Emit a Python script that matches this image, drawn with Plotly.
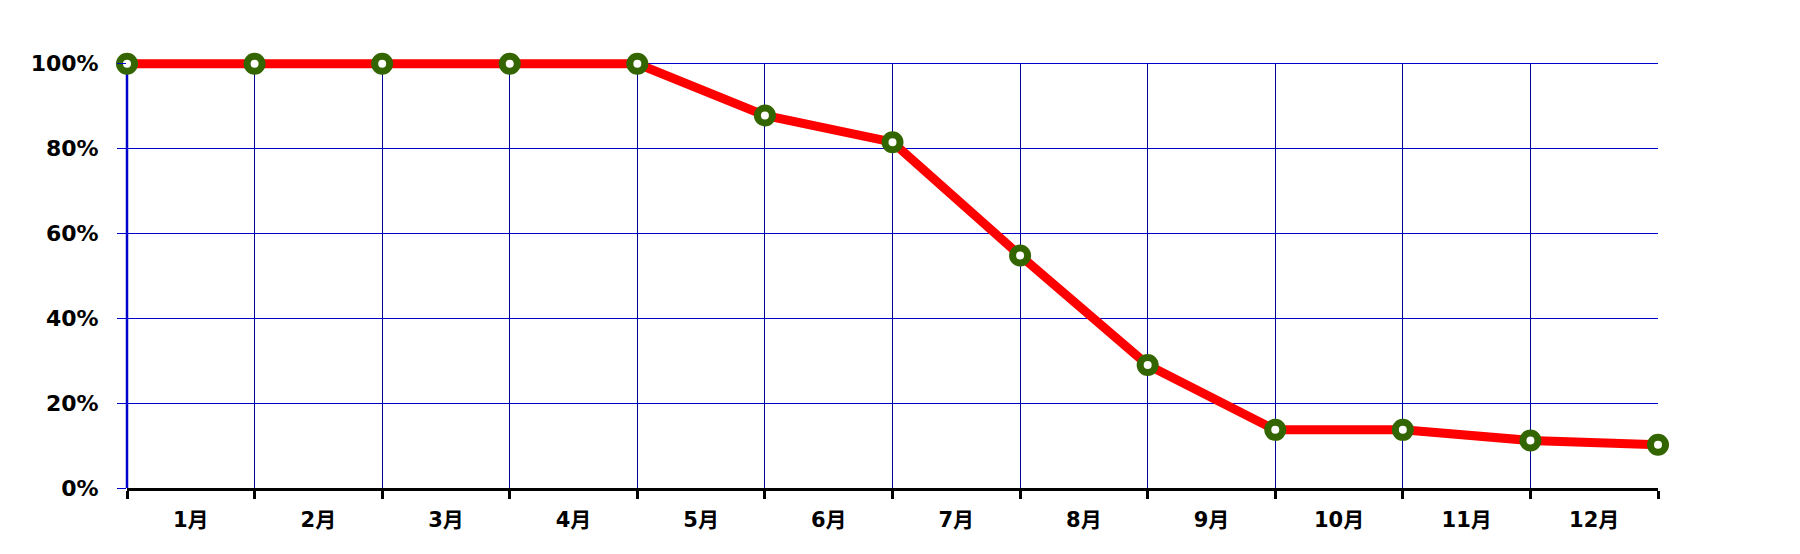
import plotly.graph_objects as go

months = ["1月", "2月", "3月", "4月", "5月", "6月", "7月", "8月", "9月", "10月", "11月", "12月"]
point_x = [0, 1, 2, 3, 4, 5, 6, 7, 8, 9, 10, 11, 12]
values = [100, 100, 100, 100, 100, 87.8, 81.5, 54.8, 29.0, 13.7, 13.7, 11.2, 10.2]
label_pos = [0.5, 1.5, 2.5, 3.5, 4.5, 5.5, 6.5, 7.5, 8.5, 9.5, 10.5, 11.5]
y_ticks = [0, 20, 40, 60, 80, 100]

font_family = "DejaVu Sans, Noto Sans CJK JP, sans-serif"

fig = go.Figure()
fig.add_trace(go.Scatter(
    x=point_x, y=values, mode="lines+markers",
    line=dict(color="#FF0000", width=9),
    marker=dict(symbol="circle", size=15, color="white",
                line=dict(color="#336600", width=7)),
    cliponaxis=False, showlegend=False, hoverinfo="skip",
))

# white band hides the grid above 100% (range is extended so the thick line isn't clipped)
fig.add_shape(type="rect", xref="x", yref="y", x0=0, x1=12.05, y0=100.15, y1=103,
              fillcolor="white", line=dict(width=0), layer="between")
# left axis line in blue
fig.add_shape(type="line", xref="paper", yref="y", x0=0, x1=0, y0=0, y1=100,
              line=dict(color="#0000CC", width=2.5), layer="between")

fig.update_layout(
    width=1784, height=538,
    margin=dict(l=119, r=134, t=42.5, b=57.7),
    paper_bgcolor="white", plot_bgcolor="white",
    font=dict(family=font_family, size=20, color="black"),
    xaxis=dict(
        range=[0, 12], tickmode="array", tickvals=label_pos, ticktext=months,
        ticks="", showgrid=False, zeroline=False,
        showline=True, linecolor="black", linewidth=3,
        tickfont=dict(family=font_family, size=21, color="black", weight="bold"),
        ticklabelstandoff=11,
        minor=dict(tickmode="array", tickvals=point_x, ticks="outside",
                   ticklen=8, tickwidth=3, tickcolor="black",
                   showgrid=True, gridcolor="#000099", gridwidth=1),
    ),
    yaxis=dict(
        range=[0, 103], tickmode="array", tickvals=y_ticks,
        ticktext=[f"{v}%" for v in y_ticks],
        ticks="outside", ticklen=9, tickwidth=1, tickcolor="#0000CC",
        showgrid=True, gridcolor="#0000CC", gridwidth=1, zeroline=False,
        showline=False,
        tickfont=dict(family=font_family, size=22, color="black", weight="bold"),
        ticklabelstandoff=14,
    ),
)

fig.write_html("out.html")
